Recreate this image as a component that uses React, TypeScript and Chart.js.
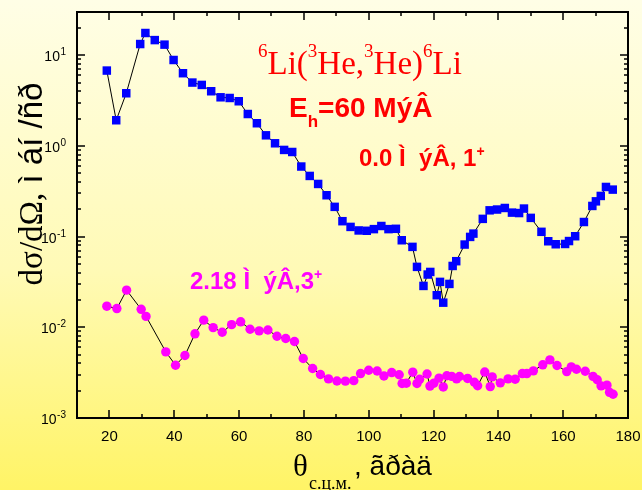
import React, { useEffect, useRef } from "react";
import { Chart, registerables } from "chart.js";

Chart.register(...registerables);

// Ground state 0.0 MeV, 1+ (blue squares)
const gsTheta = [
  19.2, 22.1, 25.2, 29.5, 31.1, 34.0, 37.0, 39.8, 42.7, 45.6, 48.5, 51.4, 54.3, 57.1, 59.9,
  62.7, 65.5, 68.3, 71.1, 73.9, 76.4, 79.2, 81.8, 84.4, 87.0, 89.5, 91.9, 94.4, 96.9, 99.4,
  101.6, 103.9, 106.1, 108.4, 110.2, 113.5, 114.9, 116.9, 118.2, 119.0, 121.0, 122.0, 123.0,
  124.9, 125.9, 127.0, 129.6, 131.3, 132.3, 135.2, 137.3, 139.6, 142.0, 144.2, 146.4, 147.9,
  150.0, 153.3, 155.4, 157.7, 160.6, 161.8, 163.7, 166.4, 169.0, 170.1, 171.6, 173.2, 175.3,
];
const gsSigma = [
  6.78, 1.92, 3.81, 13.3, 17.6, 14.7, 13.1, 8.87, 6.34, 5.0, 4.71, 4.01, 3.44, 3.38, 3.11,
  2.25, 1.78, 1.31, 1.07, 0.904, 0.858, 0.593, 0.467, 0.381, 0.286, 0.213, 0.148, 0.128, 0.117, 0.116,
  0.121, 0.131, 0.121, 0.122, 0.0912, 0.0771, 0.0464, 0.0286, 0.0382, 0.0408, 0.0226, 0.0317, 0.0187,
  0.0301, 0.0475, 0.0536, 0.0818, 0.0993, 0.108, 0.157, 0.195, 0.199, 0.207, 0.184, 0.182, 0.204,
  0.161, 0.113, 0.0889, 0.0824, 0.083, 0.0894, 0.101, 0.145, 0.218, 0.245, 0.281, 0.353, 0.330,
];

// Excited state 2.18 MeV, 3+ (magenta circles)
const exTheta = [
  19.2, 22.3, 25.3, 29.8, 31.3, 37.4, 40.4, 43.3, 46.4, 49.1, 52.0, 54.8, 57.7, 60.5, 63.4,
  66.2, 68.9, 71.7, 74.4, 77.1, 79.8, 82.7, 85.1, 87.6, 90.2, 92.8, 95.4, 97.5, 100.0, 102.6,
  104.7, 107.1, 109.4, 110.3, 111.6, 113.6, 114.9, 115.7, 118.0, 118.9, 120.1, 121.7, 123.0,
  124.1, 125.6, 127.1, 128.0, 130.5, 132.6, 133.6, 135.8, 137.5, 138.1, 140.6, 143.0, 145.2,
  147.4, 148.8, 150.8, 153.7, 155.9, 158.1, 161.1, 162.5, 164.1, 166.8, 169.2, 170.5, 171.7,
  173.5, 174.3, 175.4,
];
const exSigma = [
  0.0171, 0.0161, 0.0257, 0.0158, 0.0132, 0.00536, 0.00382, 0.00489, 0.00848, 0.0120, 0.00993,
  0.00883, 0.0107, 0.0115, 0.00953, 0.00913, 0.00935, 0.00797, 0.00752, 0.00697, 0.00453,
  0.00351, 0.00302, 0.00270, 0.00256, 0.00255, 0.00258, 0.00309, 0.00336, 0.00330, 0.00291,
  0.00317, 0.00300, 0.00240, 0.00242, 0.00320, 0.00240, 0.00267, 0.00306, 0.00225, 0.00242,
  0.00275, 0.00220, 0.00292, 0.00288, 0.00270, 0.00287, 0.00273, 0.00248, 0.00227, 0.00321,
  0.00222, 0.00284, 0.00244, 0.00270, 0.00268, 0.00309, 0.00309, 0.00331, 0.00386, 0.00438,
  0.00379, 0.00325, 0.00366, 0.00345, 0.00328, 0.00288, 0.00264, 0.00226, 0.00230, 0.00192,
  0.00183,
];

const xTickLabels = ["20", "40", "60", "80", "100", "120", "140", "160", "180"];
const yDecades = [-3, -2, -1, 0, 1];

const SERIF = "'Liberation Serif', 'Times New Roman', serif";
const SANS = "'Liberation Sans', Arial, sans-serif";

type Seg = { t: string; font: string; dy: number };

function drawSegs(ctx: CanvasRenderingContext2D, x: number, y: number, segs: Seg[], color: string) {
  ctx.fillStyle = color;
  ctx.textAlign = "left";
  ctx.textBaseline = "alphabetic";
  let cx = x;
  for (const s of segs) {
    ctx.font = s.font;
    ctx.fillText(s.t, cx, y + s.dy);
    cx += ctx.measureText(s.t).width;
  }
}

const decorPlugin = {
  id: "decor",
  afterDraw(chart: any) {
    const ctx: CanvasRenderingContext2D = chart.ctx;
    const { left, right, top, bottom } = chart.chartArea;
    const xs = chart.scales.x;
    const ys = chart.scales.y;
    ctx.save();
    ctx.strokeStyle = "#000";
    ctx.lineWidth = 1.5;
    ctx.beginPath();
    for (let v = 10; v <= 180; v += 10) {
      const px = Math.round(xs.getPixelForValue(v));
      const len = v % 20 === 0 ? 8 : 4;
      ctx.moveTo(px, bottom);
      ctx.lineTo(px, bottom - len);
      ctx.moveTo(px, top);
      ctx.lineTo(px, top + len);
    }
    for (const d of yDecades) {
      for (let m = 1; m <= 9; m++) {
        const v = m * Math.pow(10, d);
        if (v >= ys.max) continue;
        const py = Math.round(ys.getPixelForValue(v));
        const len = m === 1 ? 8 : 4;
        ctx.moveTo(left, py);
        ctx.lineTo(left + len, py);
        ctx.moveTo(right, py);
        ctx.lineTo(right - len, py);
      }
    }
    ctx.stroke();
    ctx.lineWidth = 2;
    ctx.strokeRect(left, top, right - left, bottom - top);

    // x tick labels
    ctx.fillStyle = "#000";
    ctx.font = `15px ${SANS}`;
    ctx.textAlign = "center";
    ctx.textBaseline = "alphabetic";
    for (const lab of xTickLabels) {
      const px = xs.getPixelForValue(Number(lab));
      ctx.fillText(lab, px, bottom + 23);
    }

    // y tick labels 10^n
    for (const d of yDecades) {
      const py = ys.getPixelForValue(Math.pow(10, d));
      const expStr = String(d);
      ctx.font = `10px ${SANS}`;
      const ew = ctx.measureText(expStr).width;
      ctx.textAlign = "left";
      const rightEdge = 66;
      ctx.fillText(expStr, rightEdge - ew, py);
      ctx.font = `14px ${SANS}`;
      ctx.textAlign = "right";
      ctx.fillText("10", rightEdge - ew - 0.5, py + 6);
    }

    // y axis title
    ctx.save();
    ctx.translate(42, 184);
    ctx.rotate(-Math.PI / 2);
    ctx.textAlign = "left";
    ctx.font = `33px ${SERIF}`;
    const p1 = "dσ/dΩ,";
    const w1 = ctx.measureText(p1).width;
    ctx.font = `33px ${SANS}`;
    const p2 = " ì áí /ñð";
    const w2 = ctx.measureText(p2).width;
    const sx = -(w1 + w2) / 2;
    ctx.fillStyle = "#000";
    ctx.font = `33px ${SERIF}`;
    ctx.fillText(p1, sx, 0);
    ctx.font = `33px ${SANS}`;
    ctx.fillText(p2, sx + w1, 0);
    ctx.restore();

    // x axis title
    drawSegs(ctx, 293, 476, [{ t: "θ", font: `31px ${SERIF}`, dy: 0 }], "#000");
    drawSegs(ctx, 309, 489, [{ t: "с.ц.м.", font: `18px ${SERIF}`, dy: 0 }], "#000");
    drawSegs(ctx, 354, 475, [{ t: ", ãðàä", font: `28px ${SANS}`, dy: 0 }], "#000");

    // reaction title
    const big = `33px ${SERIF}`;
    const sup = `19px ${SERIF}`;
    drawSegs(
      ctx,
      258,
      74,
      [
        { t: "6", font: sup, dy: -17 },
        { t: "Li(", font: big, dy: 0 },
        { t: "3", font: sup, dy: -17 },
        { t: "He,", font: big, dy: 0 },
        { t: "3", font: sup, dy: -17 },
        { t: "He)", font: big, dy: 0 },
        { t: "6", font: sup, dy: -17 },
        { t: "Li", font: big, dy: 0 },
      ],
      "#FF0000"
    );
    drawSegs(
      ctx,
      289,
      117,
      [
        { t: "E", font: `bold 28px ${SANS}`, dy: 0 },
        { t: "h", font: `bold 17px ${SANS}`, dy: 10 },
        { t: "=60 MýÂ", font: `bold 28px ${SANS}`, dy: 0 },
      ],
      "#FF0000"
    );
    drawSegs(
      ctx,
      359,
      166,
      [
        { t: "0.0 Ì  ýÂ, 1", font: `bold 24px ${SANS}`, dy: 0 },
        { t: "+", font: `bold 14px ${SANS}`, dy: -10 },
      ],
      "#FF0000"
    );
    drawSegs(
      ctx,
      190,
      289,
      [
        { t: "2.18 Ì  ýÂ,3", font: `bold 24px ${SANS}`, dy: 0 },
        { t: "+", font: `bold 14px ${SANS}`, dy: -10 },
      ],
      "#FF00FF"
    );
    ctx.restore();
  },
};

export default function App() {
  const ref = useRef<HTMLCanvasElement>(null);
  useEffect(() => {
    document.body.style.margin = "0";
    const canvas = ref.current;
    if (!canvas) return;
    const chart = new Chart(canvas, {
      type: "scatter",
      data: {
        datasets: [
          {
            label: "2.18 MeV, 3+",
            data: exTheta.map((x, i) => ({ x, y: exSigma[i] })),
            showLine: true,
            borderColor: "#000000",
            borderWidth: 1,
            pointStyle: "circle",
            pointRadius: 4.7,
            pointBackgroundColor: "#FF00FF",
            pointBorderColor: "#FF00FF",
            pointBorderWidth: 0,
          },
          {
            label: "0.0 MeV, 1+",
            data: gsTheta.map((x, i) => ({ x, y: gsSigma[i] })),
            showLine: true,
            borderColor: "#000000",
            borderWidth: 1,
            pointStyle: "rect",
            pointRadius: 6,
            pointBackgroundColor: "#0000FF",
            pointBorderColor: "#0000FF",
            pointBorderWidth: 0,
          },
        ],
      },
      options: {
        responsive: false,
        animation: false,
        devicePixelRatio: 1,
        layout: { padding: { left: 77, top: 12, right: 14, bottom: 72 } },
        plugins: {
          legend: { display: false },
          tooltip: { enabled: false },
        },
        scales: {
          x: { type: "linear", min: 10, max: 180, display: false },
          y: { type: "logarithmic", min: 0.001, max: 30, display: false },
        },
      },
      plugins: [decorPlugin],
    } as any);
    return () => chart.destroy();
  }, []);
  return (
    <div
      style={{
        width: 642,
        height: 490,
        background: "linear-gradient(to bottom, #FFFEE6 0%, #FFFAB6 55%, #FFF466 100%)",
      }}
    >
      <canvas ref={ref} width={642} height={490} style={{ display: "block" }} />
    </div>
  );
}
